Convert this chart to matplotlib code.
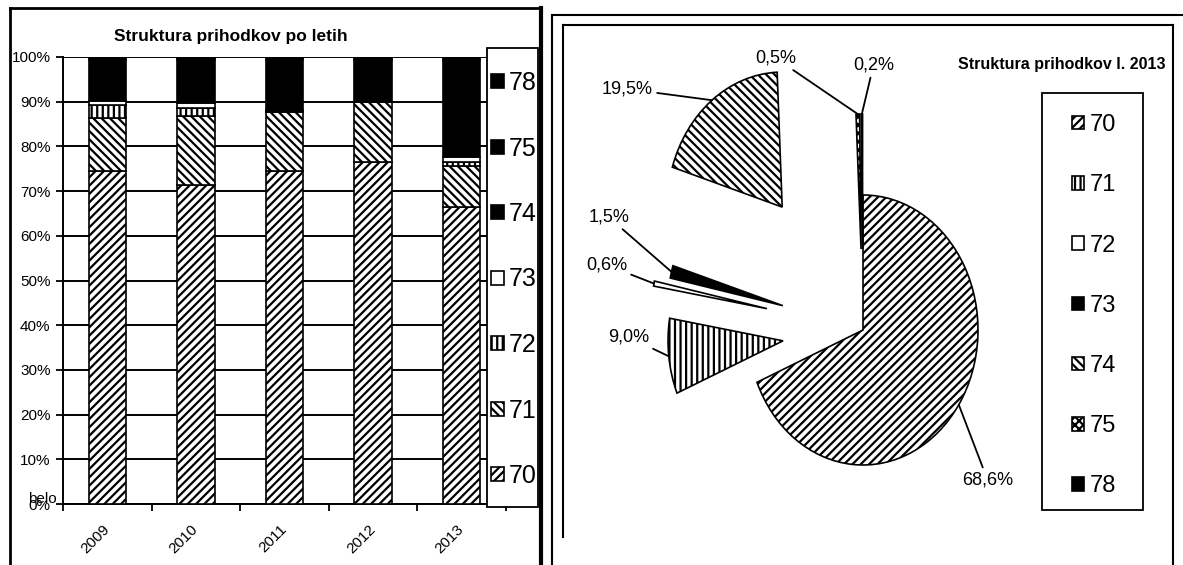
import numpy as np
import matplotlib
matplotlib.use('Agg')
import matplotlib.pyplot as plt
import matplotlib.transforms as mtransforms
from matplotlib.lines import Line2D
from matplotlib.patches import Rectangle

plt.rcParams['font.family'] = ['Liberation Sans', 'DejaVu Sans']
plt.rcParams['hatch.color'] = 'black'
plt.rcParams['hatch.linewidth'] = 1.6

# podatki - struktura prihodkov po letih (%)
years = ['2009', '2010', '2011', '2012', '2013']
konti = ['70', '71', '72', '73', '74', '75', '78']
d70 = [74.6, 71.4, 74.4, 76.5, 66.4]
d71 = [11.7, 15.5, 13.4, 13.5, 9.3]
d72 = [3.0, 1.6, 0.2, 0.0, 0.8]
d73 = [0.8, 1.2, 0.2, 0.0, 1.2]
d74 = [9.2, 9.6, 11.1, 9.3, 21.6]
d75 = [0.5, 0.5, 0.5, 0.5, 0.5]
d78 = [0.2, 0.2, 0.2, 0.2, 0.2]

# struktura prihodkov l. 2013 (%)
pie_2013 = [68.6, 9.0, 0.6, 1.5, 19.5, 0.5, 0.2]

W, H = 1183, 565
fig = plt.figure(figsize=(W / 100, H / 100), dpi=100)
fig.set_facecolor('white')


def fx(px):
    return px / W


def fy(py):
    return 1 - py / H


# ---------- levi graf: stolpci ----------
ax = fig.add_axes([fx(63), fy(504), (506 - 63) / W, (504 - 57) / H])
series = [d70, d71, d72, d73, d74, d75, d78]
bar_face = ['white', 'white', 'white', 'white', 'black', 'black', 'black']
bar_hatch = ['////', '\\\\\\\\', '|||', None, None, None, None]
x = np.arange(len(years))
bottom = np.zeros(len(years))
for vals, face, hatch, k in zip(series, bar_face, bar_hatch, konti):
    ax.bar(x, vals, 0.42, bottom=bottom, color=face, edgecolor='black',
           hatch=hatch, linewidth=1.2, label=k, zorder=3)
    bottom += np.array(vals)

ax.set_xlim(-0.5, len(years) - 0.5)
ax.set_ylim(0, 100)
ax.set_yticks(np.arange(0, 101, 10))
ax.set_yticklabels([f'{v}%' for v in range(0, 101, 10)], fontsize=11)
ax.set_xticks(x)
ax.set_xticklabels(years, rotation=45, ha='right', fontsize=11)
ax.set_xticks(np.arange(-0.5, len(years)), minor=True)
ax.tick_params(axis='x', which='major', length=0, pad=13)
ax.tick_params(axis='x', which='minor', length=5, width=1.3, direction='out')
ax.tick_params(axis='y', length=5, width=1.3, pad=4)
shift = mtransforms.ScaledTranslation(5 / 100, 0, fig.dpi_scale_trans)
for t in ax.get_xticklabels():
    t.set_transform(t.get_transform() + shift)
ax.grid(axis='y', color='black', linewidth=1.4, zorder=0)
ax.set_axisbelow(True)
for s in ['top', 'right']:
    ax.spines[s].set_visible(False)
ax.spines['left'].set_linewidth(1.4)
ax.spines['bottom'].set_linewidth(1.4)
fig.text(fx(57), fy(499), 'belo', fontsize=11, ha='right', va='center')

fig.text(fx(231), fy(37), 'Struktura prihodkov po letih', fontsize=12.5,
         fontweight='bold', ha='center', va='center')

h, l = ax.get_legend_handles_labels()
ax.add_patch(Rectangle((fx(487), fy(507)), (538 - 487) / W, (507 - 48) / H,
                       transform=fig.transFigure, facecolor='white', edgecolor='black',
                       linewidth=1.3, zorder=4.5, clip_on=False))
leg = ax.legend(h[::-1], l[::-1], loc='upper left', bbox_to_anchor=(fx(491), fy(71)),
                bbox_transform=fig.transFigure, borderaxespad=0, borderpad=0,
                frameon=False, fontsize=18,
                handlelength=0.5, handleheight=0.5, handletextpad=0.2, labelspacing=1.66)

# ---------- desni graf: tortni ----------
axp = fig.add_axes([fx(564), fy(546), 598 / W, 513 / H])
pie_face = ['white', 'white', 'white', 'black', 'white', 'white', 'black']
pie_hatch = ['////', '|||', None, None, '\\\\\\\\', 'xxxx', None]
explode = [0, 0.7, 0.85, 0.72, 1.15, 0.6, 0.6]
wedges, _ = axp.pie(pie_2013, explode=explode, startangle=90, counterclock=False,
                    colors=pie_face, hatch=pie_hatch,
                    wedgeprops=dict(edgecolor='black', linewidth=1.2))
axp.set_aspect('auto')
axp.set_xlim(-2.6, 2.6)
axp.set_ylim(-1.6, 2.2)
axp.axis('off')

label_pos = [(962, 480), (649, 337), (627, 265), (629, 217), (653, 89), (796, 58), (853, 65)]
label_ha = ['left', 'right', 'right', 'right', 'right', 'right', 'left']
for w, v, (tx, ty), ha in zip(wedges, pie_2013, label_pos, label_ha):
    ang = np.deg2rad((w.theta1 + w.theta2) / 2)
    cx, cy = w.center
    px, py = cx + w.r * np.cos(ang), cy + w.r * np.sin(ang)
    txt = f'{v:.1f}'.replace('.', ',') + '%'
    axp.annotate(txt, xy=(px, py), xytext=(tx, H - ty), textcoords='figure pixels',
                 ha=ha, va='center', fontsize=13,
                 arrowprops=dict(arrowstyle='-', color='black', lw=1.3,
                                 shrinkA=1, shrinkB=0))

fig.text(fx(958), fy(65), 'Struktura prihodkov l. 2013', fontsize=11.5,
         fontweight='bold', ha='left', va='center')

axp.add_patch(Rectangle((fx(1042), fy(510)), (1143 - 1042) / W, (510 - 93) / H,
                        transform=fig.transFigure, facecolor='white', edgecolor='black',
                        linewidth=1.3, zorder=4.5, clip_on=False))
leg2 = axp.legend(wedges, konti, loc='upper left', bbox_to_anchor=(fx(1072), fy(114)),
                  bbox_transform=fig.transFigure, borderaxespad=0, borderpad=0,
                  frameon=False, fontsize=17,
                  handlelength=0.5, handleheight=0.5, handletextpad=0.25, labelspacing=1.62)

# okvirji
frame_lines = [
    ([10, 10], [8, 565], 2.0), ([10, 541], [8, 8], 2.0), ([541, 541], [8, 565], 3.0),
    ([552, 552], [15, 565], 1.5), ([552, 1183], [15, 15], 1.5),
    ([563, 563], [25, 537], 1.5), ([563, 1173], [25, 25], 1.5), ([1173, 1173], [25, 565], 1.5),
]
for xs, ys, lw in frame_lines:
    fig.add_artist(Line2D([fx(v) for v in xs], [fy(v) for v in ys],
                          transform=fig.transFigure, color='black', linewidth=lw))

fig.savefig('out.png', dpi=100, facecolor='white')
